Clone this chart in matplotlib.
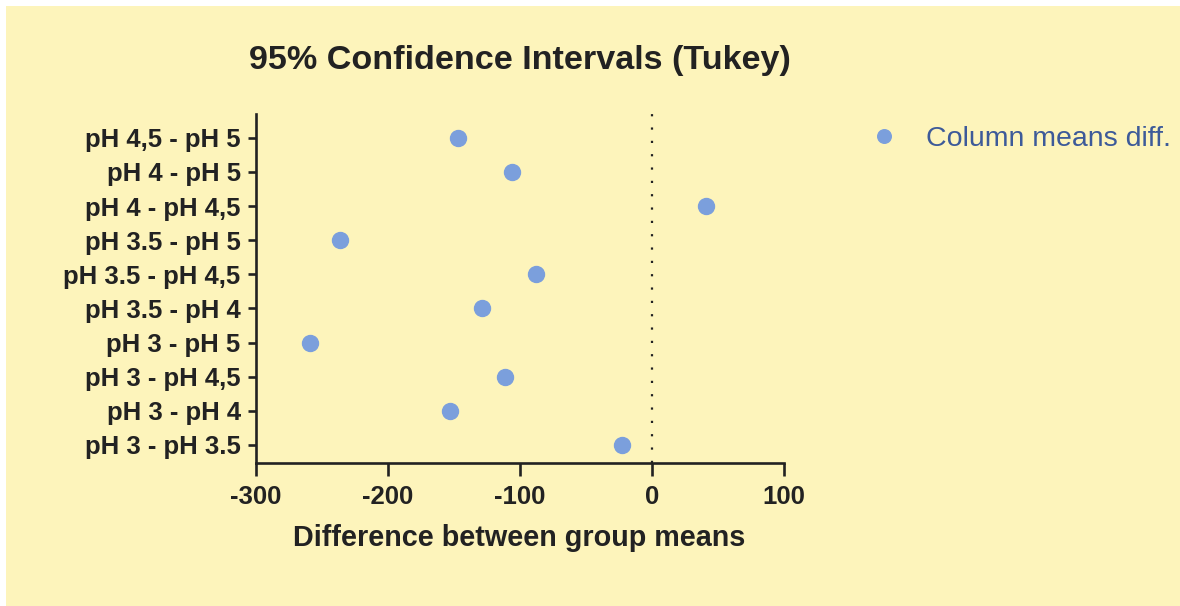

# plot.py
# Tukey 95% confidence intervals, column mean differences

import numpy as np
from matplotlib import pyplot as plt

COMPARISONS = ["pH 3 - pH 3.5", "pH 3 - pH 4", "pH 3 - pH 4,5", "pH 3 - pH 5",
               "pH 3.5 - pH 4", "pH 3.5 - pH 4,5", "pH 3.5 - pH 5",
               "pH 4 - pH 4,5", "pH 4 - pH 5", "pH 4,5 - pH 5"]
MEAN_DIFFS = [-23, -153, -111, -259, -129, -88, -236, 41, -106, -147]
X_TICKS = [-300, -200, -100, 0, 100]

BG = "#fdf4bb"
DOT = "#7b9fdc"
INK = "#222222"

plt.rcParams['font.family'] = ['Liberation Sans', 'DejaVu Sans']


def plotIntervals(savefile: str):

    fig = plt.figure(figsize=(11.8, 6.06), dpi=100)
    fig.patch.set_facecolor("white")

    # yellow panel behind everything (white strip on top and left)
    fig.patches.append(plt.Rectangle((6 / 1180, 0), 1 - 6 / 1180, 1 - 6 / 606,
                                     transform=fig.transFigure, facecolor=BG,
                                     edgecolor="none", zorder=-10))

    ax = fig.add_axes([256 / 1180, 1 - 463 / 606, 528 / 1180, 349 / 606])
    ax.set_facecolor("none")

    ypos = np.arange(len(COMPARISONS))
    ax.plot(MEAN_DIFFS, ypos, 'o', color=DOT, markersize=11.5, zorder=3,
            label="Column means diff.")
    ax.axvline(0, color=INK, linestyle=(0, (1, 5)), linewidth=1.6, zorder=1)

    ax.set_xlim(-300, 100)
    ax.set_ylim(-0.53, len(COMPARISONS) - 1 + 0.7)

    ax.set_xticks(X_TICKS)
    ax.set_xticklabels([str(x) for x in X_TICKS])
    ax.set_yticks(ypos)
    ax.set_yticklabels(COMPARISONS)

    for side in ("top", "right"):
        ax.spines[side].set_visible(False)
    for side in ("left", "bottom"):
        ax.spines[side].set_linewidth(1.9)
        ax.spines[side].set_color(INK)

    ax.tick_params(axis="both", direction="out", length=6, width=1.9, color=INK,
                   labelcolor=INK, labelsize=18.5)
    ax.tick_params(axis="x", length=9, pad=7)
    ax.tick_params(axis="y", pad=5)
    for lbl in ax.get_xticklabels() + ax.get_yticklabels():
        lbl.set_fontweight("bold")

    fig.text(520 / 1180, 1 - 60 / 606, "95% Confidence Intervals (Tukey)",
             ha="center", va="center", fontsize=24.6, fontweight="bold", color=INK)
    fig.text(519 / 1180, 1 - 538 / 606, "Difference between group means",
             ha="center", va="center", fontsize=20.7, fontweight="bold", color=INK)

    ax.legend(loc="center left", bbox_to_anchor=(870 / 1180, 1 - 139 / 606),
              bbox_transform=fig.transFigure, frameon=False, fontsize=20.5,
              handlelength=1.0, handletextpad=0.95, borderpad=0, borderaxespad=0,
              markerscale=0.85, labelcolor="#3d5a99")

    fig.savefig(savefile, dpi=100, facecolor=fig.get_facecolor())


def main():
    plotIntervals("out.png")


if __name__ == '__main__':
    main()
